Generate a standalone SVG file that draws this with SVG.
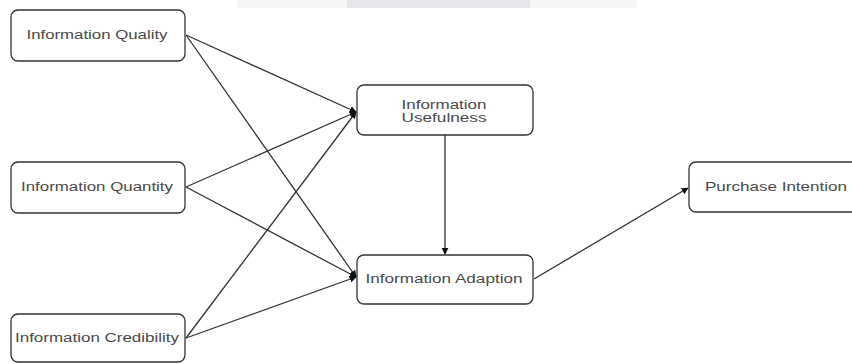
<svg xmlns="http://www.w3.org/2000/svg" width="852" height="364" viewBox="0 0 852 364">
<style>
.box{fill:#fff;stroke:#333;stroke-width:1.3}
.lbl{font-family:"Liberation Sans",Arial,sans-serif;font-size:12px;fill:#4a4a4a;text-anchor:middle;dominant-baseline:central}
.edge{stroke:#333;stroke-width:1.3;fill:none;marker-end:url(#ah)}
</style>
<defs>
<marker id="ah" viewBox="0 0 10 10" refX="9" refY="5" markerWidth="7" markerHeight="7" markerUnits="userSpaceOnUse" orient="auto">
<path d="M0,0 L10,5 L0,10 Z" fill="#111"/>
</marker>
</defs>
<rect width="852" height="364" fill="#fff"/>
<rect x="237" y="0" width="400" height="8" fill="#f6f6f7"/>
<rect x="347" y="0" width="183" height="8" fill="#e6e7ea"/>
<g id="connectors">
<line class="edge" x1="186" y1="35" x2="356" y2="112"/>
<line class="edge" x1="186" y1="35" x2="356" y2="277"/>
<line class="edge" x1="186" y1="187" x2="356" y2="112"/>
<line class="edge" x1="186" y1="187" x2="356" y2="277"/>
<line class="edge" x1="186" y1="338" x2="356" y2="112"/>
<line class="edge" x1="186" y1="338" x2="356" y2="277"/>
<line class="edge" x1="445" y1="135" x2="445" y2="254"/>
<line class="edge" x1="534" y1="279" x2="688" y2="188"/>
</g>
<g id="n-quality"><rect class="box" x="11" y="10" width="174" height="51" rx="7"/><text class="lbl" x="97" y="35" textLength="141" lengthAdjust="spacingAndGlyphs">Information Quality</text></g>
<g id="n-quantity"><rect class="box" x="11" y="162" width="174" height="51" rx="7"/><text class="lbl" x="97" y="187" textLength="152" lengthAdjust="spacingAndGlyphs">Information Quantity</text></g>
<g id="n-credibility"><rect class="box" x="11" y="314" width="174" height="48" rx="7"/><text class="lbl" x="97" y="338" textLength="164" lengthAdjust="spacingAndGlyphs">Information Credibility</text></g>
<g id="n-usefulness"><rect class="box" x="357" y="85" width="176" height="50" rx="7"/><text class="lbl" x="444" y="105" textLength="85" lengthAdjust="spacingAndGlyphs">Information</text><text class="lbl" x="444" y="118" textLength="85" lengthAdjust="spacingAndGlyphs">Usefulness</text></g>
<g id="n-adaption"><rect class="box" x="357" y="255" width="176" height="49" rx="7"/><text class="lbl" x="444" y="279" textLength="157" lengthAdjust="spacingAndGlyphs">Information Adaption</text></g>
<g id="n-purchase"><rect class="box" x="689" y="162" width="170" height="50" rx="7"/><text class="lbl" x="776" y="187" textLength="142" lengthAdjust="spacingAndGlyphs">Purchase Intention</text></g>
</svg>
